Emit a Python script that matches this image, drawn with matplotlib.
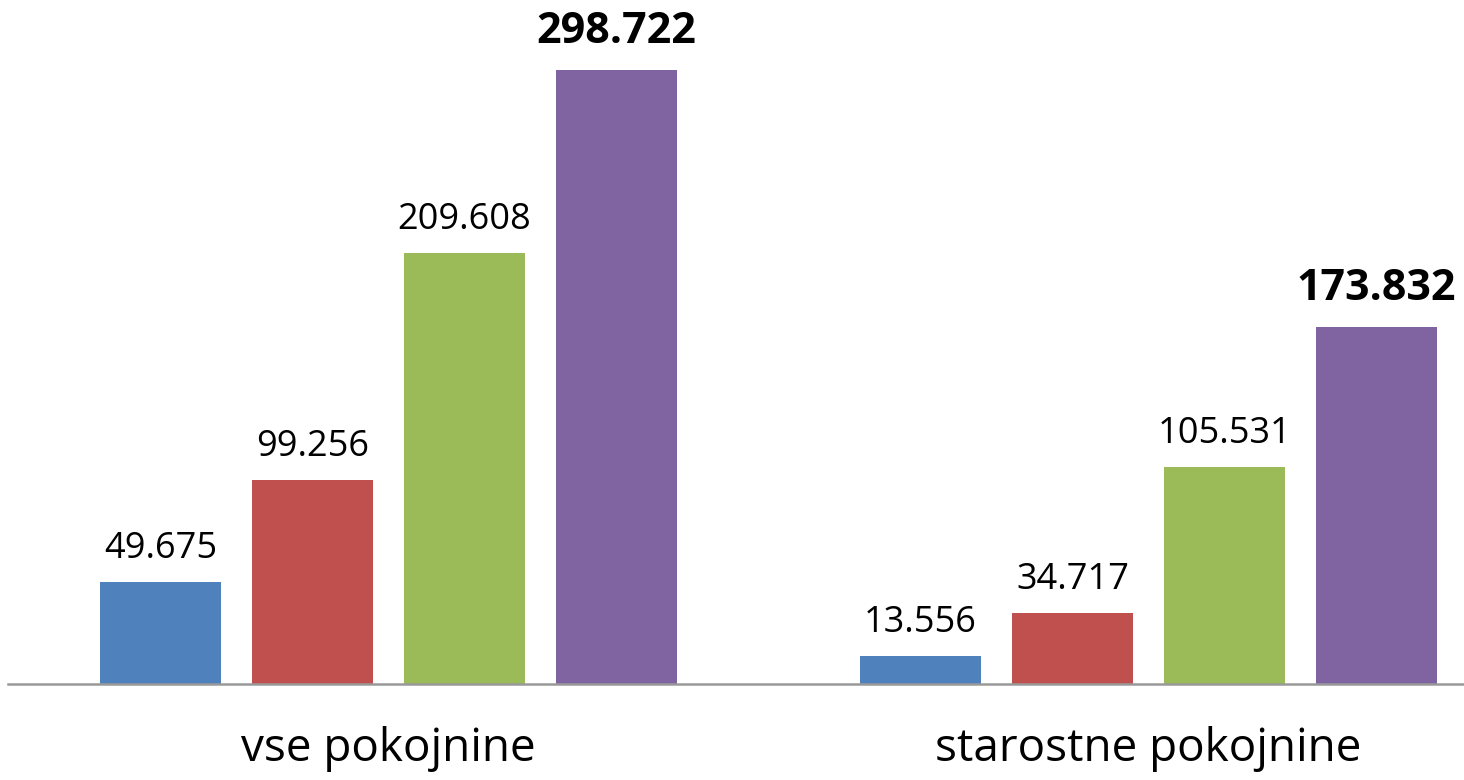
import numpy as np
import matplotlib
matplotlib.use("Agg")
import matplotlib.pyplot as plt

plt.rcParams["font.family"] = ["Open Sans", "DejaVu Sans"]

kategorije = ["vse pokojnine", "starostne pokojnine"]
serija_1 = [49.675, 13.556]
serija_2 = [99.256, 34.717]
serija_3 = [209.608, 105.531]
serija_4 = [298.722, 173.832]
barve = ["#4F81BD", "#C0504D", "#9BBB59", "#8064A2"]

serije = [serija_1, serija_2, serija_3, serija_4]

fig = plt.figure(figsize=(14.64, 7.80), dpi=100)
ax = fig.add_axes([8 / 1464, 96 / 780, 1456 / 1464, 684 / 780])

x = np.arange(len(kategorije))
korak = 0.2
sirina = 0.159

for i, (vrednosti, barva) in enumerate(zip(serije, barve)):
    pos = x + (i - 1.5) * korak
    ax.bar(pos, vrednosti, width=sirina, color=barva, zorder=2)
    zadnja = i == len(serije) - 1
    for xp, v in zip(pos, vrednosti):
        label = f"{v:.3f}"
        ax.annotate(
            label,
            (xp, v),
            xytext=(0, 19.5 if zadnja else 17.3),
            textcoords="offset points",
            ha="center",
            va="baseline",
            fontsize=31 if zadnja else 26,
            fontweight="bold" if zadnja else "normal",
            color="black",
        )

ax.set_xlim(-0.5007, 1.415)
ax.set_ylim(0, 684 / 2.0555)

for s in ["top", "right", "left"]:
    ax.spines[s].set_visible(False)
ax.spines["bottom"].set_color("#999999")
ax.spines["bottom"].set_linewidth(1.8)
ax.set_yticks([])
ax.set_xticks(x)
ax.set_xticklabels(kategorije, fontsize=33)
ax.tick_params(axis="x", length=0, pad=30)

fig.savefig("out.png", dpi=100)
